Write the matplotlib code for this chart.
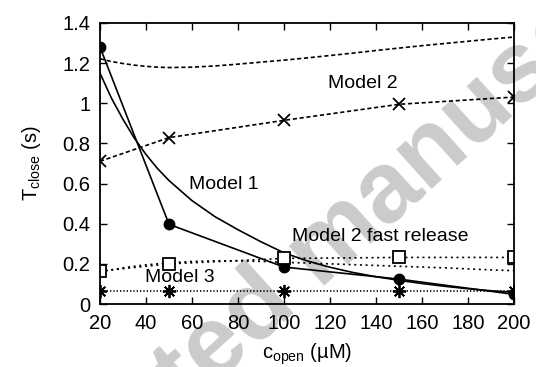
import matplotlib
matplotlib.use("Agg")
import matplotlib.pyplot as plt

plt.rcParams['font.family'] = ['Liberation Sans', 'DejaVu Sans']
plt.rcParams['mathtext.fontset'] = 'custom'
plt.rcParams['mathtext.rm'] = 'Liberation Sans'
plt.rcParams['mathtext.it'] = 'Liberation Sans:italic'

# Simulated concentrations (uM)
c_sim = [20, 50, 100, 150, 200]
model1_sim = [1.28, 0.397, 0.184, 0.124, 0.048]
model2_sim = [0.711, 0.829, 0.915, 0.995, 1.031]
model2_fast_sim = [0.164, 0.200, 0.227, 0.232, 0.232]
model3_sim = [0.065, 0.065, 0.065, 0.065, 0.065]

# Theory curves
c_theory = [20, 25, 30, 35, 40, 45, 50, 60, 70, 80, 90, 100, 110, 120,
            130, 140, 150, 160, 170, 180, 190, 200]
model1_theory = [1.15, 1.025, 0.92, 0.825, 0.745, 0.675, 0.615, 0.515, 0.435, 0.37,
                 0.31, 0.255, 0.215, 0.183, 0.157, 0.136, 0.118, 0.102, 0.088,
                 0.076, 0.066, 0.058]
model2_theory = [1.222, 1.208, 1.198, 1.190, 1.184, 1.180, 1.178, 1.180, 1.186,
                 1.195, 1.205, 1.215, 1.226, 1.238, 1.250, 1.263, 1.275, 1.287,
                 1.298, 1.309, 1.320, 1.330]
model2_fast_theory = [0.160, 0.170, 0.180, 0.188, 0.195, 0.200, 0.205, 0.212,
                      0.215, 0.215, 0.212, 0.208, 0.204, 0.200, 0.196, 0.192,
                      0.188, 0.184, 0.180, 0.175, 0.170, 0.166]

x_ticks = [20, 40, 60, 80, 100, 120, 140, 160, 180, 200]
y_ticks = [0, 0.2, 0.4, 0.6, 0.8, 1.0, 1.2, 1.4]
y_tick_labels = ['0', '0.2', '0.4', '0.6', '0.8', '1', '1.2', '1.4']

fig = plt.figure(figsize=(5.36, 3.67), dpi=100)
ax = fig.add_axes([100 / 536, 1 - 304 / 367, 414 / 536, 281 / 367])
ax.patch.set_alpha(0)

# watermark behind the plot
fig.text(325 / 536, 1 - 250 / 367, 'Accepted manuscript', fontsize=72,
         fontweight='bold', color='#cbcbcb', rotation=42, ha='center',
         va='center', rotation_mode='anchor', zorder=-5)

k = 'black'
lw = 1.2
ax.plot(c_theory, model2_theory, color=k, lw=lw, ls=(0, (2.5, 1.6)))
ax.plot(c_sim, model2_sim, color=k, lw=lw, ls=(0, (2.5, 1.6)),
        marker='x', ms=8.5, mew=1.3)
ax.plot(c_theory, model1_theory, color=k, lw=lw)
ax.plot(c_sim, model1_sim, color=k, lw=lw, marker='o', ms=7.5)
ax.plot(c_theory, model2_fast_theory, color=k, lw=lw, ls=(0, (1.2, 2.2)))
ax.plot(c_sim, model2_fast_sim, color=k, lw=lw, ls=(0, (1.2, 2.2)),
        marker='s', ms=8.5, mfc='white', mew=1.3)
ax.plot(c_sim, model3_sim, color=k, lw=lw, ls=(0, (0.8, 1.2)),
        marker=(8, 2, 0), ms=9.5, mew=1.3)

ax.set_xlim(20, 200)
ax.set_ylim(0, 1.4)
ax.set_xticks(x_ticks)
ax.set_yticks(y_ticks)
ax.set_yticklabels(y_tick_labels)
ax.tick_params(direction='in', length=5, width=1, top=True, right=True,
               labelsize=14.5, pad=7, colors='black')
for s in ax.spines.values():
    s.set_linewidth(1.3)

ax.set_xlabel('c$_{\\rm open}$ (\u00b5M)', fontsize=14.5, labelpad=6)
ax.set_ylabel('T$_{\\rm close}$ (s)', fontsize=14.5, labelpad=14)

ax.text(134.3, (304 - 83) / 201, 'Model 2', fontsize=14, ha='center', va='center')
ax.text(73.9, (304 - 184) / 201, 'Model 1', fontsize=14, ha='center', va='center')
ax.text(141.7, (304 - 236) / 201, 'Model 2 fast release', fontsize=14,
        ha='center', va='center')
ax.text(54.8, (304 - 277) / 201, 'Model 3', fontsize=14, ha='center', va='center')

fig.savefig('out.png', dpi=100)
